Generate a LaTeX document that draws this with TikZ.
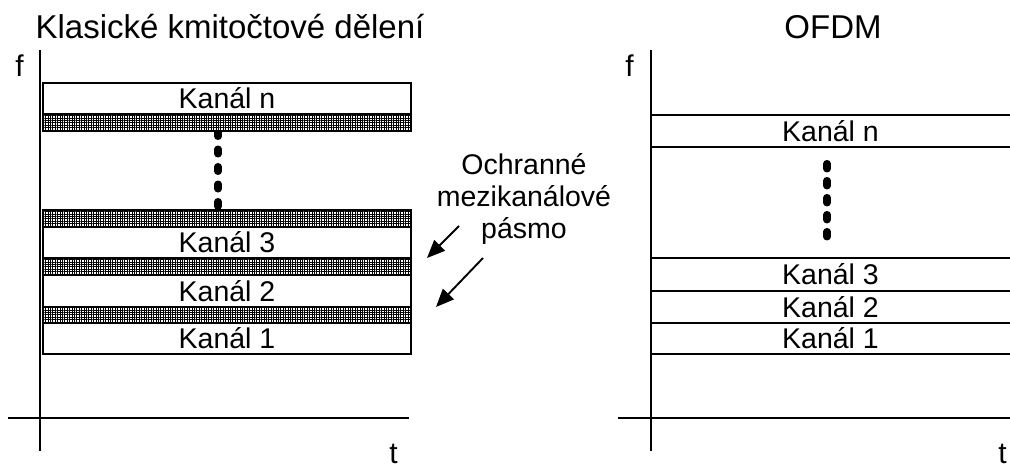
\documentclass[tikz,border=0pt]{standalone}
\usepackage{fontspec}
\setmainfont{Liberation Sans}
\usetikzlibrary{arrows.meta,patterns.meta}
\begin{document}
\begin{tikzpicture}[x=1pt,y=-1pt,
  lw/.style={line width=1.6pt},
  body/.style={font=\fontsize{28.5}{32}\selectfont},
  axl/.style={font=\fontsize{30}{34}\selectfont, anchor=base},
  ttl/.style={font=\fontsize{33}{38}\selectfont, anchor=base},
  chan/.style={draw, lw, fill=white, body, inner sep=0pt},
  band/.style={inner sep=0pt, preaction={fill=white},
     pattern={Lines[distance=2.4pt,line width=0.7pt]},
     postaction={pattern={Lines[angle=90,distance=2.4pt,line width=0.7pt]}},
     postaction={draw, lw}},
  dotline/.style={line width=7.5pt, line cap=round, dash pattern=on 4.5pt off 13pt},
  arr/.style={line width=1.9pt, -{Triangle[length=18pt,width=15pt]}}
]
\useasboundingbox (0,0) rectangle (1010,466);

% ---------- left panel ----------
\node[ttl] (title1) at (230,38) {Klasické kmitočtové dělení};
\node[axl] (f1) at (19.5,76.5) {f};
\node[axl] (t1) at (393.5,463) {t};
\draw[lw] (40,50) -- (40,451);
\draw[lw] (8,418) -- (409,418);

% dotted connector drawn first (behind bands)
\coordinate (d1a) at (218,131.75);
\coordinate (d1b) at (218,210);
\draw[dotline] (d1a) -- (d1b);

\node[chan, minimum width=368pt, minimum height=31pt] (kn) at (227,98.5) {Kanál n};
\node[band, minimum width=368pt, minimum height=17pt] (gn) at (227,122.5) {};
\node[band, minimum width=368pt, minimum height=17pt] (g3) at (227,218.5) {};
\node[chan, minimum width=368pt, minimum height=31pt] (k3) at (227,242.5) {Kanál 3};
\node[band, minimum width=368pt, minimum height=17pt] (g32) at (227,266.5) {};
\node[chan, minimum width=368pt, minimum height=32pt] (k2) at (227,291) {Kanál 2};
\node[band, minimum width=368pt, minimum height=16pt] (g21) at (227,315) {};
\node[chan, minimum width=368pt, minimum height=31pt] (k1) at (227,338.5) {Kanál 1};

% guard band label and arrows
\node[body, align=center] (guard) at (524,199) {Ochranné\\mezikanálové\\pásmo};
\coordinate (a1s) at (459,226);
\coordinate (a1e) at (427,258);
\coordinate (a2s) at (483,258);
\coordinate (a2e) at (436,307);
\draw[arr] (a1s) -- (a1e);
\draw[arr] (a2s) -- (a2e);

% ---------- right panel ----------
\node[ttl] (title2) at (833,38) {OFDM};
\node[axl] (f2) at (629.5,76.5) {f};
\node[axl] (t2) at (1002.5,463) {t};
\draw[lw] (651,50) -- (651,451);
\draw[lw] (618,418) -- (1010,418);

\node[body, minimum width=359pt, minimum height=32pt, inner sep=0pt] (rn) at (830.5,131) {Kanál n};
\node[body, minimum width=359pt, minimum height=33pt, inner sep=0pt] (r3) at (830.5,274.5) {Kanál 3};
\node[body, minimum width=359pt, minimum height=32pt, inner sep=0pt] (r2) at (830.5,307) {Kanál 2};
\node[body, minimum width=359pt, minimum height=31pt, inner sep=0pt] (r1) at (830.5,338.5) {Kanál 1};
\draw[lw] (rn.north west) -- (rn.north east);
\draw[lw] (rn.south west) -- (rn.south east);
\draw[lw] (r3.north west) -- (r3.north east);
\draw[lw] (r2.north west) -- (r2.north east);
\draw[lw] (r1.north west) -- (r1.north east);
\draw[lw] (r1.south west) -- (r1.south east);
\draw[dotline, dash pattern=on 5pt off 12pt, shorten <=16.5pt, shorten >=19pt]
  ([xshift=-3.5pt]rn.south) -- ([xshift=-3.5pt]r3.north);
\end{tikzpicture}
\end{document}
